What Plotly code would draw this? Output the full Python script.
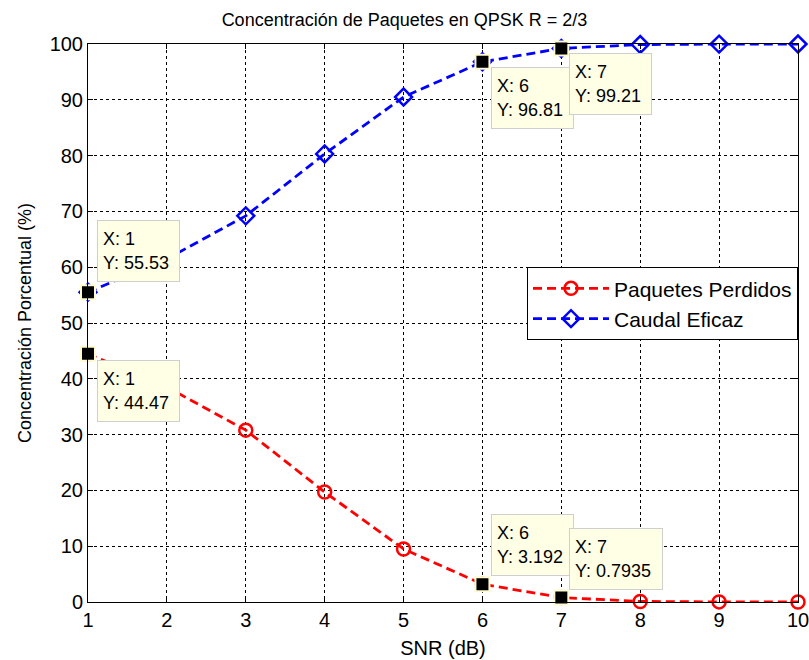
import plotly.graph_objects as go

snr = [1, 2, 3, 4, 5, 6, 7, 8, 9, 10]
perdidos = [44.47, 38.5, 30.8, 19.7, 9.5, 3.192, 0.7935, 0.1, 0.02, 0.0]
caudal = [55.53, 61.5, 69.2, 80.3, 90.5, 96.81, 99.21, 99.9, 99.98, 100.0]

tips_x = [1, 6, 7, 1, 6, 7]
tips_y = [55.53, 96.81, 99.21, 44.47, 3.192, 0.7935]
tips_label = ["55.53", "96.81", "99.21", "44.47", "3.192", "0.7935"]
# box top-left anchors (data coordinates) and text widths
tips_box_x = [1.114, 6.108, 7.097, 1.114, 6.108, 7.097]
tips_box_y = [68.4, 95.9, 98.3, 43.3, 15.8, 13.3]
tips_box_w = [71, 71, 71, 71, 71, 82]

FONT = "Liberation Sans, Arial, Helvetica, sans-serif"

fig = go.Figure()
fig.add_trace(go.Scatter(
    x=snr, y=perdidos, name="Paquetes Perdidos", mode="lines+markers",
    line=dict(color="#FF0000", width=2.8, dash="9px,5px"),
    marker=dict(symbol="circle-open", size=13, color="#FF0000", line=dict(width=2.5, color="#FF0000")),
    cliponaxis=False,
))
fig.add_trace(go.Scatter(
    x=snr, y=caudal, name="Caudal Eficaz", mode="lines+markers",
    line=dict(color="#0000FF", width=2.8, dash="9px,5px"),
    marker=dict(symbol="diamond-open", size=13, color="#0000FF", line=dict(width=2.5, color="#0000FF")),
    cliponaxis=False,
))
fig.add_trace(go.Scatter(
    x=tips_x, y=tips_y, mode="markers", showlegend=False, hoverinfo="skip",
    marker=dict(symbol="square", size=14, color="#000000", line=dict(width=2, color="#FFFBD0")),
    cliponaxis=False,
))

for bx, by, bw, tx, tl in zip(tips_box_x, tips_box_y, tips_box_w, tips_x, tips_label):
    fig.add_annotation(
        x=bx, y=by, xref="x", yref="y", xanchor="left", yanchor="top",
        text=f"X: {tx}<br>Y: {tl}", showarrow=False, align="left",
        bgcolor="#FFFFE6", bordercolor="#CFCFCF", borderwidth=1, borderpad=5,
        width=bw, height=50,
        font=dict(family=FONT, size=18, color="#000000"),
    )

axis_common = dict(
    showline=True, linecolor="#000000", linewidth=1, mirror="ticks",
    ticks="inside", ticklen=5, tickcolor="#000000",
    showgrid=True, gridcolor="#000000", gridwidth=1, griddash="dot",
    zeroline=False, ticklabeloverflow="allow", automargin=False,
    tickfont=dict(family=FONT, size=20, color="#000000"),
)

fig.update_layout(
    width=809, height=660,
    margin=dict(l=88, r=11, t=44, b=58),
    paper_bgcolor="#FFFFFF", plot_bgcolor="#FFFFFF",
    title=dict(text="Concentración de Paquetes en QPSK R = 2/3", x=0.5, xanchor="center",
               y=1 - 20 / 660, yanchor="middle",
               font=dict(family=FONT, size=18, color="#000000")),
    xaxis=dict(range=[1, 10], tickvals=snr, title=dict(text="SNR (dB)", standoff=10,
               font=dict(family=FONT, size=20, color="#000000")), **axis_common),
    yaxis=dict(range=[0, 100], tickvals=list(range(0, 101, 10)),
               title=dict(text="Concentración Porcentual (%)", standoff=13,
               font=dict(family=FONT, size=18, color="#000000")), **axis_common),
    legend=dict(x=1, xanchor="right", y=0.600, yanchor="top",
                bgcolor="#FFFFFF", bordercolor="#000000", borderwidth=1,
                font=dict(family=FONT, size=21, color="#000000"),
                itemwidth=76, tracegroupgap=0),
    showlegend=True,
)

fig.write_html("out.html")
